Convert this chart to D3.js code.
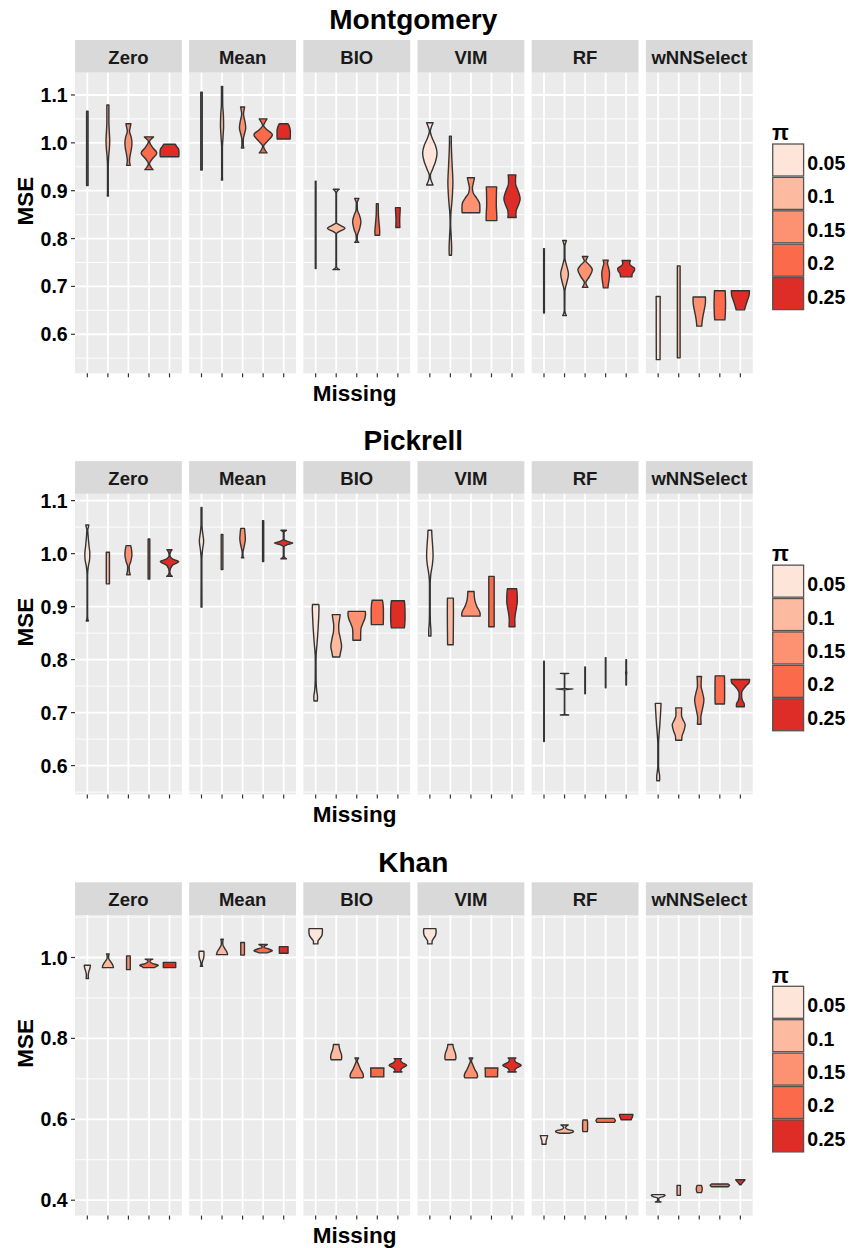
<!DOCTYPE html>
<html>
<head>
<meta charset="utf-8">
<script src="https://cdn.jsdelivr.net/npm/d3@7"></script>
<style>
  body { margin: 0; background: #fff; }
  text { font-family: "Liberation Sans", Arial, Helvetica, sans-serif; font-weight: bold; }
</style>
</head>
<body>
<svg id="chart" width="854" height="1248"></svg>
<script>
// ---- categories -------------------------------------------------------
const datasets = ["Montgomery", "Pickrell", "Khan"];
const methods = ["Zero", "Mean", "BIO", "VIM", "RF", "wNNSelect"];
const piLevels = ["0.05", "0.1", "0.15", "0.2", "0.25"];
const piColors = ["#FEE5D9", "#FCBBA1", "#FC9272", "#FB6A4A", "#DE2D26"];

// y-axis breaks for each dataset
const montgomeryTicks = [0.6, 0.7, 0.8, 0.9, 1.0, 1.1];
const pickrellTicks = [0.6, 0.7, 0.8, 0.9, 1.0, 1.1];
const khanTicks = [0.4, 0.6, 0.8, 1.0];

// ---- violin profiles ----------------------------------------------------
// One list per method, one profile per pi level.
// Each profile point is [MSE, relative density]; density 1 = full violin width.

const montgomeryZero = [
  [[0.911,0.08],[1.066,0.08]],
  [[0.889,0.06],[0.895,0.04],[0.95,0.04],[0.97,0.08],[0.99,0.17],[1.005,0.2],[1.025,0.15],[1.045,0.11],[1.079,0.11]],
  [[0.953,0.2],[0.962,0.12],[0.975,0.2],[0.99,0.34],[1.0,0.38],[1.012,0.3],[1.024,0.12],[1.033,0.2],[1.04,0.27]],
  [[0.944,0.45],[0.95,0.2],[0.956,0.06],[0.965,0.3],[0.979,0.85],[0.99,0.4],[1.003,0.06],[1.008,0.25],[1.0125,0.5]],
  [[0.971,1.0],[0.975,1.02],[0.982,1.02],[0.988,0.95],[0.993,0.75],[0.997,0.63]]
];
const montgomeryMean = [
  [[0.943,0.08],[1.106,0.08]],
  [[0.922,0.06],[0.93,0.04],[0.99,0.04],[1.01,0.1],[1.035,0.17],[1.06,0.14],[1.08,0.07],[1.11,0.06],[1.118,0.07]],
  [[0.989,0.13],[0.995,0.07],[1.007,0.08],[1.02,0.22],[1.031,0.34],[1.045,0.25],[1.06,0.1],[1.068,0.15],[1.075,0.22]],
  [[0.979,0.42],[0.985,0.2],[0.993,0.05],[1.003,0.45],[1.017,1.0],[1.027,0.45],[1.036,0.05],[1.043,0.2],[1.05,0.42]],
  [[1.008,0.7],[1.015,0.72],[1.025,0.72],[1.032,0.65],[1.037,0.55],[1.04,0.45]]
];
const montgomeryBIO = [
  [[0.7375,0.04],[0.92,0.04]],
  [[0.735,0.35],[0.738,0.1],[0.742,0.03],[0.81,0.03],[0.8145,0.3],[0.8215,0.95],[0.829,0.3],[0.833,0.03],[0.895,0.03],[0.899,0.12],[0.903,0.32]],
  [[0.792,0.22],[0.797,0.05],[0.805,0.06],[0.82,0.3],[0.835,0.45],[0.848,0.3],[0.86,0.07],[0.875,0.05],[0.879,0.12],[0.884,0.23]],
  [[0.807,0.25],[0.815,0.26],[0.83,0.2],[0.85,0.12],[0.873,0.1]],
  [[0.823,0.22],[0.84,0.2],[0.855,0.24],[0.8646,0.26]]
];
const montgomeryVIM = [
  [[0.912,0.35],[0.918,0.2],[0.931,0.05],[0.945,0.3],[0.96,0.6],[0.979,0.78],[0.995,0.6],[1.01,0.25],[1.024,0.05],[1.035,0.2],[1.042,0.35]],
  [[0.765,0.12],[0.78,0.14],[0.8,0.1],[0.83,0.03],[0.85,0.05],[0.88,0.18],[0.917,0.27],[0.95,0.2],[0.98,0.13],[1.0,0.1],[1.014,0.1]],
  [[0.854,0.95],[0.862,0.97],[0.872,0.95],[0.885,0.6],[0.895,0.25],[0.906,0.16],[0.915,0.25],[0.922,0.33],[0.927,0.38]],
  [[0.8375,0.58],[0.85,0.57],[0.87,0.52],[0.89,0.53],[0.908,0.56]],
  [[0.844,0.45],[0.85,0.42],[0.858,0.45],[0.868,0.65],[0.883,0.88],[0.9,0.65],[0.915,0.38],[0.925,0.38],[0.933,0.42]]
];
const montgomeryRF = [
  [[0.6444,0.04],[0.779,0.04]],
  [[0.639,0.2],[0.643,0.1],[0.65,0.03],[0.69,0.04],[0.705,0.2],[0.726,0.42],[0.745,0.2],[0.76,0.04],[0.785,0.04],[0.79,0.1],[0.796,0.2]],
  [[0.698,0.3],[0.703,0.15],[0.708,0.08],[0.72,0.45],[0.735,0.78],[0.745,0.45],[0.753,0.08],[0.758,0.18],[0.7625,0.3]],
  [[0.697,0.25],[0.705,0.3],[0.715,0.38],[0.728,0.42],[0.74,0.3],[0.748,0.2],[0.755,0.28]],
  [[0.72,0.62],[0.726,0.65],[0.732,0.85],[0.737,0.92],[0.742,0.6],[0.747,0.38],[0.75,0.38],[0.754,0.45]]
];
const montgomeryWNN = [
  [[0.547,0.2],[0.6,0.21],[0.65,0.21],[0.679,0.22]],
  [[0.5507,0.15],[0.743,0.15]],
  [[0.617,0.27],[0.625,0.3],[0.64,0.42],[0.655,0.58],[0.668,0.67],[0.678,0.67]],
  [[0.63,0.55],[0.645,0.6],[0.665,0.62],[0.68,0.6],[0.691,0.58]],
  [[0.651,0.45],[0.66,0.58],[0.672,0.78],[0.682,0.95],[0.691,0.98]]
];

const pickrellZero = [
  [[0.873,0.12],[0.877,0.05],[0.885,0.03],[0.96,0.03],[0.975,0.1],[0.99,0.25],[1.0,0.27],[1.015,0.18],[1.035,0.08],[1.045,0.05],[1.05,0.12],[1.054,0.16]],
  [[0.943,0.17],[1.0025,0.17]],
  [[0.96,0.2],[0.965,0.12],[0.975,0.08],[0.985,0.25],[0.998,0.38],[1.008,0.33],[1.015,0.25]],
  [[0.952,0.09],[1.0276,0.09]],
  [[0.957,0.3],[0.96,0.12],[0.966,0.04],[0.978,0.3],[0.985,1.0],[0.99,0.3],[0.997,0.04],[1.003,0.12],[1.0075,0.28]]
];
const pickrellMean = [
  [[0.899,0.05],[0.95,0.04],[0.99,0.04],[1.005,0.1],[1.024,0.23],[1.04,0.12],[1.055,0.05],[1.087,0.05]],
  [[0.97,0.09],[1.036,0.09]],
  [[0.992,0.13],[0.995,0.05],[1.002,0.04],[1.012,0.15],[1.0276,0.3],[1.04,0.25],[1.0476,0.2]],
  [[0.985,0.06],[1.062,0.06]],
  [[0.99,0.3],[0.993,0.1],[0.996,0.04],[1.013,0.04],[1.017,0.4],[1.02,1.0],[1.023,0.4],[1.027,0.04],[1.04,0.04],[1.042,0.12],[1.044,0.3]]
];
const pickrellBIO = [
  [[0.7218,0.18],[0.73,0.2],[0.74,0.12],[0.76,0.05],[0.79,0.04],[0.808,0.05],[0.83,0.15],[0.86,0.27],[0.885,0.34],[0.898,0.36],[0.904,0.34]],
  [[0.805,0.38],[0.812,0.45],[0.825,0.58],[0.84,0.45],[0.855,0.28],[0.865,0.27],[0.875,0.35],[0.885,0.43]],
  [[0.8365,0.42],[0.845,0.42],[0.858,0.45],[0.868,0.65],[0.878,0.88],[0.886,0.95],[0.891,0.92]],
  [[0.866,0.64],[0.88,0.66],[0.895,0.66],[0.905,0.62],[0.912,0.56]],
  [[0.86,0.7],[0.865,0.74],[0.88,0.78],[0.895,0.77],[0.905,0.74],[0.911,0.7]]
];
const pickrellVIM = [
  [[0.8446,0.12],[0.855,0.12],[0.87,0.06],[0.9,0.04],[0.943,0.04],[0.96,0.1],[0.98,0.28],[0.996,0.35],[1.02,0.28],[1.035,0.22],[1.044,0.2]],
  [[0.828,0.3],[0.86,0.32],[0.89,0.33],[0.916,0.32]],
  [[0.882,0.98],[0.886,1.0],[0.892,0.9],[0.9,0.65],[0.91,0.45],[0.92,0.36],[0.9286,0.34]],
  [[0.862,0.29],[0.957,0.29]],
  [[0.862,0.32],[0.875,0.3],[0.885,0.35],[0.9,0.5],[0.91,0.57],[0.925,0.55],[0.9336,0.5]]
];
const pickrellRF = [
  [[0.6454,0.03],[0.797,0.03]],
  [[0.6955,0.45],[0.6965,0.02],[0.7435,0.02],[0.7444,0.95],[0.7453,0.02],[0.773,0.02],[0.774,0.45]],
  [[0.7356,0.03],[0.786,0.03]],
  [[0.747,0.03],[0.8036,0.03]],
  [[0.752,0.03],[0.77,0.03],[0.775,0.06],[0.78,0.03],[0.8,0.03]]
];
const pickrellWNN = [
  [[0.5714,0.15],[0.58,0.16],[0.59,0.08],[0.6,0.04],[0.64,0.04],[0.655,0.08],[0.675,0.17],[0.7,0.26],[0.7174,0.31]],
  [[0.648,0.33],[0.655,0.35],[0.665,0.55],[0.677,0.7],[0.687,0.45],[0.695,0.3],[0.703,0.3],[0.709,0.33]],
  [[0.678,0.2],[0.69,0.17],[0.705,0.32],[0.7237,0.5],[0.74,0.32],[0.75,0.2],[0.76,0.21],[0.7682,0.25]],
  [[0.7162,0.5],[0.73,0.52],[0.75,0.52],[0.7694,0.5]],
  [[0.711,0.43],[0.716,0.42],[0.722,0.25],[0.73,0.14],[0.7375,0.14],[0.745,0.35],[0.752,0.7],[0.757,0.95],[0.7625,1.0]]
];

const khanZero = [
  [[0.948,0.13],[0.955,0.1],[0.965,0.16],[0.975,0.3],[0.981,0.33]],
  [[0.975,0.6],[0.98,0.55],[0.99,0.3],[0.998,0.08],[1.004,0.08],[1.009,0.14]],
  [[0.97,0.2],[1.004,0.2]],
  [[0.975,0.6],[0.978,0.8],[0.981,1.0],[0.985,0.4],[0.99,0.1],[0.994,0.2],[0.996,0.42]],
  [[0.975,0.67],[0.988,0.67]]
];
const khanMean = [
  [[0.978,0.12],[0.983,0.06],[0.99,0.1],[1.0,0.25],[1.01,0.27],[1.0156,0.25]],
  [[1.007,0.6],[1.012,0.55],[1.022,0.3],[1.033,0.08],[1.04,0.08],[1.045,0.14]],
  [[1.006,0.2],[1.037,0.2]],
  [[1.0115,0.4],[1.014,0.7],[1.017,1.0],[1.021,0.6],[1.025,0.1],[1.029,0.2],[1.032,0.45]],
  [[1.0107,0.47],[1.027,0.47]]
];
const khanBIO = [
  [[1.0336,0.24],[1.04,0.24],[1.047,0.45],[1.055,0.68],[1.064,0.73],[1.0713,0.72]],
  [[0.7474,0.55],[0.752,0.6],[0.76,0.57],[0.77,0.42],[0.778,0.33],[0.785,0.3]],
  [[0.7023,0.62],[0.706,0.72],[0.712,0.68],[0.722,0.45],[0.735,0.2],[0.744,0.06],[0.748,0.1],[0.7515,0.2]],
  [[0.7048,0.7],[0.72,0.7],[0.7269,0.72]],
  [[0.717,0.45],[0.72,0.3],[0.725,0.4],[0.7335,0.95],[0.74,0.5],[0.745,0.3],[0.748,0.3],[0.75,0.4]]
];
const khanVIM = [
  [[1.0336,0.24],[1.04,0.24],[1.047,0.4],[1.055,0.62],[1.064,0.68],[1.0713,0.65]],
  [[0.7474,0.55],[0.752,0.6],[0.762,0.55],[0.772,0.4],[0.78,0.3],[0.785,0.28]],
  [[0.7023,0.62],[0.706,0.72],[0.712,0.68],[0.722,0.45],[0.735,0.2],[0.744,0.06],[0.748,0.1],[0.7515,0.2]],
  [[0.7048,0.66],[0.72,0.67],[0.7269,0.7]],
  [[0.717,0.45],[0.72,0.3],[0.725,0.4],[0.7335,1.0],[0.74,0.5],[0.745,0.3],[0.748,0.3],[0.7515,0.42]]
];
const khanRF = [
  [[0.5383,0.22],[0.545,0.22],[0.552,0.3],[0.5596,0.4]],
  [[0.5654,0.5],[0.568,0.9],[0.571,0.97],[0.575,0.3],[0.58,0.1],[0.583,0.2],[0.5859,0.4]],
  [[0.5695,0.24],[0.575,0.27],[0.59,0.27],[0.5982,0.24]],
  [[0.5925,0.95],[0.597,1.05],[0.6023,0.9]],
  [[0.599,0.55],[0.605,0.65],[0.61,0.72],[0.6121,0.72]]
];
const khanWNN = [
  [[0.3957,0.3],[0.398,0.1],[0.402,0.06],[0.406,0.1],[0.409,0.55],[0.412,0.75],[0.4137,0.65]],
  [[0.412,0.18],[0.4367,0.18]],
  [[0.4186,0.22],[0.423,0.3],[0.43,0.32],[0.434,0.27],[0.4367,0.22]],
  [[0.4334,0.9],[0.437,1.05],[0.44,0.9]],
  [[0.4383,0.08],[0.442,0.18],[0.446,0.35],[0.4506,0.5]]
];

// profiles grouped per dataset, in method order
const violinData = [
  [montgomeryZero, montgomeryMean, montgomeryBIO, montgomeryVIM, montgomeryRF, montgomeryWNN],
  [pickrellZero, pickrellMean, pickrellBIO, pickrellVIM, pickrellRF, pickrellWNN],
  [khanZero, khanMean, khanBIO, khanVIM, khanRF, khanWNN]
];
const tickSets = [montgomeryTicks, pickrellTicks, khanTicks];

// ---- layout -------------------------------------------------------------
const W = 854, H = 1248;
const blockH = 421.15;                 // vertical pitch of the three plots
const panelX0 = 75, panelW = 106.84, panelGap = 7.33;
const stripTop = 40, stripH = 32.7;
const panelTop = stripTop + stripH, panelBottom = 373.3;
const ink = "#333333";

const svg = d3.select("#chart");
svg.append("rect").attr("width", W).attr("height", H).attr("fill", "#ffffff");

const fmt = d3.format(".1f");

datasets.forEach((name, k) => {
  const g = svg.append("g").attr("transform", `translate(0,${k * blockH})`);
  const groups = violinData[k];
  const ticks = tickSets[k];

  // continuous y scale with 5% expansion of the data range
  const [lo, hi] = d3.extent(groups.flat(2), d => d[0]);
  const pad = (hi - lo) * 0.05;
  const y = d3.scaleLinear().domain([lo - pad, hi + pad]).range([panelBottom, panelTop]);

  const tickStep = ticks[1] - ticks[0];
  const minor = d3.range(ticks.length + 1)
    .map(i => ticks[0] + (i - 0.5) * tickStep)
    .filter(v => v >= y.domain()[0] && v <= y.domain()[1]);

  // title
  g.append("text")
    .attr("x", 413.3).attr("y", 29.3)
    .attr("text-anchor", "middle")
    .attr("font-size", 28).attr("fill", "#000")
    .text(name);

  methods.forEach((method, j) => {
    const px = panelX0 + j * (panelW + panelGap);
    const x = d3.scalePoint().domain(piLevels).range([px, px + panelW]).padding(0.6);
    const halfW = d3.scaleLinear().domain([0, 1]).range([0, 0.45 * x.step()]);

    // strip
    g.append("rect")
      .attr("x", px).attr("y", stripTop).attr("width", panelW).attr("height", stripH)
      .attr("fill", "#D9D9D9");
    g.append("text")
      .attr("x", px + panelW / 2).attr("y", stripTop + 23.6)
      .attr("text-anchor", "middle")
      .attr("font-size", 18.5).attr("fill", "#1A1A1A")
      .text(method);

    // panel background and grid
    g.append("rect")
      .attr("x", px).attr("y", panelTop).attr("width", panelW).attr("height", panelBottom - panelTop)
      .attr("fill", "#EBEBEB");
    g.selectAll(null).data(minor).enter().append("line")
      .attr("x1", px).attr("x2", px + panelW)
      .attr("y1", d => y(d)).attr("y2", d => y(d))
      .attr("stroke", "#ffffff").attr("stroke-width", 0.9);
    g.selectAll(null).data(ticks).enter().append("line")
      .attr("x1", px).attr("x2", px + panelW)
      .attr("y1", d => y(d)).attr("y2", d => y(d))
      .attr("stroke", "#ffffff").attr("stroke-width", 1.8);
    g.selectAll(null).data(piLevels).enter().append("line")
      .attr("x1", d => x(d)).attr("x2", d => x(d))
      .attr("y1", panelTop).attr("y2", panelBottom)
      .attr("stroke", "#ffffff").attr("stroke-width", 1.8);

    // violins
    groups[j].forEach((profile, i) => {
      const cx = x(piLevels[i]);
      const pts = profile.slice().sort((a, b) => b[0] - a[0]);
      const area = d3.area()
        .curve(d3.curveMonotoneY)
        .y(d => y(d[0]))
        .x0(d => cx - halfW(d[1]))
        .x1(d => cx + halfW(d[1]));
      g.append("path")
        .attr("d", area(pts))
        .attr("fill", piColors[i])
        .attr("stroke", ink)
        .attr("stroke-width", 1.4)
        .attr("stroke-linejoin", "round");
    });

    // x axis ticks (no labels)
    g.selectAll(null).data(piLevels).enter().append("line")
      .attr("x1", d => x(d)).attr("x2", d => x(d))
      .attr("y1", panelBottom).attr("y2", panelBottom + 4)
      .attr("stroke", ink).attr("stroke-width", 1.2);
  });

  // y axis ticks and labels
  g.selectAll(null).data(ticks).enter().append("line")
    .attr("x1", panelX0 - 4).attr("x2", panelX0)
    .attr("y1", d => y(d)).attr("y2", d => y(d))
    .attr("stroke", ink).attr("stroke-width", 1.2);
  g.selectAll(null).data(ticks).enter().append("text")
    .attr("x", 67.7).attr("y", d => y(d) + 7)
    .attr("text-anchor", "end")
    .attr("font-size", 19.5).attr("fill", "#000")
    .text(d => fmt(d));

  // axis titles
  g.append("text")
    .attr("transform", `translate(33,201) rotate(-90)`)
    .attr("text-anchor", "middle")
    .attr("font-size", 22.5).attr("fill", "#000")
    .text("MSE");
  g.append("text")
    .attr("x", 354.7).attr("y", 400.7)
    .attr("text-anchor", "middle")
    .attr("font-size", 22.5).attr("fill", "#000")
    .text("Missing");

  // legend
  const keyX = 772, keyW = 32.3, keyTop = 143.3, keyH = 33.4;
  g.append("text")
    .attr("x", keyX).attr("y", keyTop - 3)
    .attr("font-family", "'Liberation Serif', 'DejaVu Serif', serif")
    .attr("font-weight", "normal")
    .attr("font-size", 22).attr("fill", "#000")
    .text("π");
  const keys = g.selectAll(null).data(piLevels).enter().append("g")
    .attr("transform", (d, i) => `translate(${keyX},${keyTop + i * keyH})`);
  keys.append("rect")
    .attr("x", 0.7).attr("y", 0.7).attr("width", keyW - 1.4).attr("height", keyH - 1.4)
    .attr("fill", (d, i) => piColors[i])
    .attr("stroke", "#555555").attr("stroke-width", 1.3);
  keys.append("text")
    .attr("x", keyW + 3).attr("y", keyH / 2 + 10)
    .attr("font-size", 19.5).attr("fill", "#000")
    .text(d => d);
});
</script>
</body>
</html>
